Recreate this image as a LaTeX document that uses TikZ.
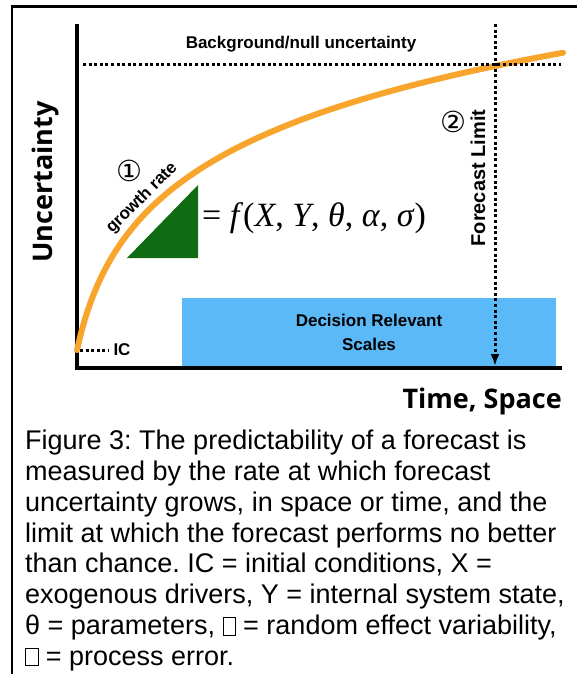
\documentclass[tikz,border=0pt]{standalone}
\usepackage{fontspec}
\setmainfont{Liberation Sans}
\newfontfamily\axisfont{Open Sans}
\newfontfamily\serifmath{Liberation Serif}
\newfontfamily\symfont{DejaVu Sans}
\usetikzlibrary{arrows.meta,positioning}
\definecolor{growthorange}{HTML}{F7A52C}
\definecolor{slopegreen}{HTML}{0F6C12}
\definecolor{scaleblue}{HTML}{5CB9F7}
\newcommand{\tofu}{{\setlength\fboxsep{0pt}\setlength\fboxrule{0.6pt}\fbox{\rule{0pt}{17pt}\hspace{12pt}}}}
\frenchspacing

\begin{document}
\begin{tikzpicture}[x=1pt,y=-1pt,line cap=butt,
  axis/.style={line width=4pt},
  dots/.style={line width=3pt,dash pattern=on 3pt off 2.6pt},
  tag/.style={font=\fontsize{17}{21}\selectfont\bfseries,inner sep=0pt,align=center},
  num/.style={font=\symfont\fontsize{29}{31}\selectfont,inner sep=0pt},
  axtitle/.style={font=\axisfont\fontsize{27}{30}\selectfont\bfseries,inner sep=0pt},
  figtext/.style={font=\fontsize{27}{30.8}\selectfont,inner sep=0pt,align=left}]
  \useasboundingbox (0,0) rectangle (577,674);
  % frame of the figure box
  \draw[line width=2.5pt] (12,674) -- (12,6.5) -- (577,6.5);
  % decision scales band
  \node[tag,font=\fontsize{17}{24}\selectfont\bfseries,fill=scaleblue,
    minimum width=374pt,minimum height=68pt] (scales) at (369,332)
    {Decision Relevant\\Scales};
  % axes
  \coordinate (origin) at (77,368);
  \coordinate (ytop) at (77,24);
  \coordinate (xend) at (562,368);
  \draw[axis] (ytop) -- (origin) -- (xend);
  \node[axtitle,rotate=90] (ylab) at (45,182) {Uncertainty};
  \node[axtitle,anchor=base east] (xlab) at (562,408) {Time, Space};
  % growth of uncertainty
  \draw[growthorange,line width=6pt,line cap=round]
    plot[domain=77:563,samples=120,smooth] (\x,{350-92*ln(1+(\x-77)/20)});
  \fill[slopegreen] (127,258) -- (198,185) -- (198,258) -- cycle;
  \node[anchor=west,inner sep=0pt,font=\serifmath\fontsize{34}{40}\selectfont] (rate) at (202,218)
    {= \textit{f}(\textit{X}, \textit{Y}, \textit{θ}, \textit{α}, \textit{σ})};
  \node[num] (one) at (129,171) {①};
  \node[tag,font=\fontsize{17}{19}\selectfont\bfseries,rotate=45] (growth) at (142,198) {growth rate};
  % null line and forecast limit
  \coordinate (nullstart) at (83,65);
  \coordinate (nullend) at (561,65);
  \draw[dots] (nullstart) -- (nullend);
  \node[tag,anchor=base] (null) at (301,49) {Background/null uncertainty};
  \coordinate (limtop) at (495,24);
  \coordinate (limbot) at (495,366);
  \draw[dots,-{Latex[length=12pt,width=9pt]}] (limtop) -- (limbot);
  \node[tag,rotate=90,font=\fontsize{20}{22}\selectfont\bfseries] (limit) at (478,178) {Forecast Limit};
  \node[num] (two) at (453,122) {②};
  % initial conditions
  \node[tag,font=\fontsize{17}{19}\selectfont\bfseries] (ic) at (122,350) {IC};
  \draw[dots] (80,350) -- ([xshift=-5pt]ic.west);
  % caption
  \node[figtext,anchor=north west] (caption) at (25,430)
    {Figure 3: The predictability of a forecast is\\
     measured by the rate at which forecast\\
     uncertainty grows, in space or time, and the\\
     limit at which the forecast performs no better\\
     than chance. IC = initial conditions, X =\\
     exogenous drivers, Y = internal system state,\\
     θ = parameters, \tofu{} = random effect variability,\\
     \tofu{} = process error.};
\end{tikzpicture}
\end{document}
